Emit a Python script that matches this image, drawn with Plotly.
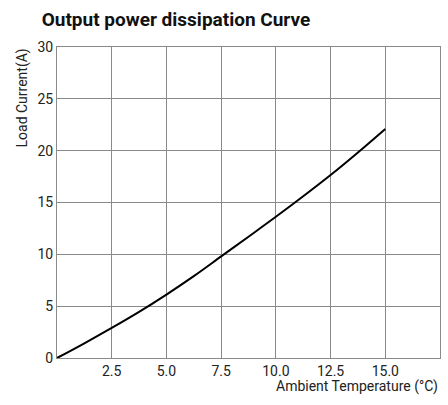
import plotly.graph_objects as go

temperature = [0, 1.25, 2.5, 3.75, 5.0, 6.25, 7.5, 8.75, 10.0, 11.25, 12.5, 13.75, 15.0]
load_current = [0, 1.42, 2.9, 4.45, 6.12, 7.9, 9.8, 11.7, 13.62, 15.6, 17.65, 19.83, 22.1]

x_ticks = [2.5, 5.0, 7.5, 10.0, 12.5, 15.0, 17.5]
y_ticks = [0, 5, 10, 15, 20, 25, 30]

FONT = "Roboto, Liberation Sans, sans-serif"

fig = go.Figure()
fig.add_trace(go.Scatter(x=temperature, y=load_current, mode="lines",
                         line=dict(color="black", width=2, shape="spline"),
                         showlegend=False, hoverinfo="skip"))

axis_common = dict(showgrid=True, gridcolor="#8a8a8a", gridwidth=1, zeroline=False,
                   showline=True, linecolor="#8a8a8a", linewidth=1, mirror=True,
                   ticks="", ticklen=0, automargin=False,
                   tickfont=dict(family=FONT, size=14, color="#222"))

fig.update_layout(
    width=448, height=405,
    margin=dict(l=57, r=8, t=47, b=47),
    paper_bgcolor="white", plot_bgcolor="white",
    font=dict(family=FONT, size=14, color="#222"),
    title=dict(text="<b>Output power dissipation Curve</b>", x=0.093, xanchor="left",
               y=0.953, yanchor="middle", font=dict(family=FONT, size=19, color="#111")),
    xaxis=dict(range=[0, 17.5], tickvals=x_ticks, ticktext=[f"{v:.1f}" for v in x_ticks],
               **axis_common),
    yaxis=dict(range=[0, 30], tickvals=y_ticks, ticktext=[str(v) for v in y_ticks],
               **axis_common),
    annotations=[
        dict(text="Load Current(A)", xref="paper", yref="paper", x=0, y=1.0,
             xanchor="center", yanchor="top", textangle=-90, showarrow=False,
             xshift=-35, font=dict(family=FONT, size=14, color="#222")),
        dict(text="Ambient Temperature (°C)", xref="paper", yref="paper", x=1.0, y=0,
             xanchor="right", yanchor="top", showarrow=False, yshift=-18,
             font=dict(family=FONT, size=14, color="#222")),
    ],
)

fig.write_html("out.html", config={"displayModeBar": False},
               post_script="document.body.style.margin='0';")
